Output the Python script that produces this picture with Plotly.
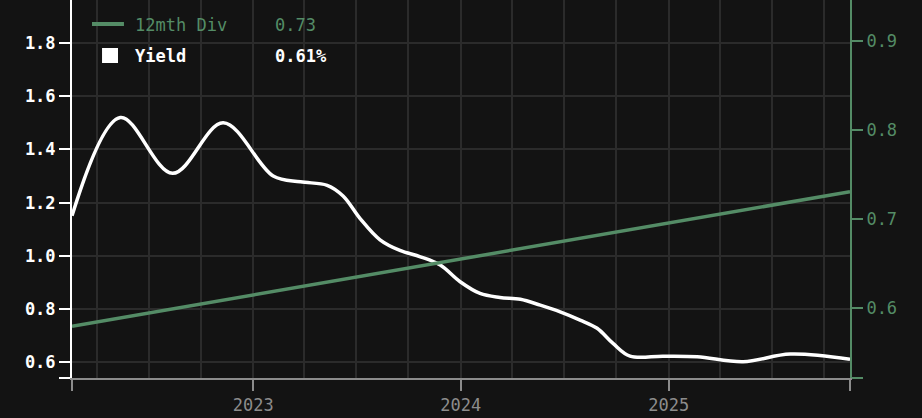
import plotly.graph_objects as go

# ---- data ----
yield_dates = ["2022-02-16", "2022-05-12", "2022-08-12", "2022-11-09", "2023-02-05",
               "2023-03-25", "2023-05-11", "2023-06-08", "2023-07-08", "2023-08-12",
               "2023-09-16", "2023-10-22", "2023-11-26", "2023-12-31", "2024-02-04",
               "2024-03-10", "2024-04-15", "2024-05-20", "2024-06-24", "2024-07-29",
               "2024-08-28", "2024-09-25", "2024-10-25", "2024-12-22", "2025-02-20",
               "2025-05-12", "2025-08-03", "2025-11-16"]
yield_values = [1.15, 1.52, 1.31, 1.50, 1.30,
                1.278, 1.265, 1.225, 1.14, 1.06,
                1.02, 0.996, 0.965, 0.902, 0.858,
                0.843, 0.836, 0.814, 0.789, 0.758,
                0.727, 0.670, 0.622, 0.622, 0.620,
                0.601, 0.630, 0.610]

div_dates = ["2022-02-16", "2023-01-01", "2024-01-01", "2025-01-01", "2025-11-16"]
div_values = [0.580, 0.615, 0.655, 0.696, 0.731]

x_range = ["2022-02-16", "2025-11-16"]
year_ticks = ["2023-01-01", "2024-01-01", "2025-01-01"]
year_labels = ["2023", "2024", "2025"]
quarter_grid = ["2022-04-01", "2022-07-01", "2022-10-01", "2023-04-01", "2023-07-01",
                "2023-10-01", "2024-04-01", "2024-07-01", "2024-10-01", "2025-04-01",
                "2025-07-01", "2025-10-01"]
left_ticks = [0.6, 0.8, 1.0, 1.2, 1.4, 1.6, 1.8]
right_ticks = [0.6, 0.7, 0.8, 0.9]
left_range = [0.54, 1.962]
right_range = [0.522, 0.946]

# ---- style ----
BG = "#131313"
GRID = "#2b2b2b"
GREEN = "#548c66"
WHITE = "#ffffff"
GRAY = "#8c8c8c"
FONT = "DejaVu Sans Mono"
FS = 17

fig = go.Figure()
fig.add_trace(go.Scatter(x=div_dates, y=div_values, mode="lines", yaxis="y2",
                         line=dict(color=GREEN, width=3.5), name="12mth Div",
                         showlegend=False))
fig.add_trace(go.Scatter(x=yield_dates, y=yield_values, mode="lines",
                         line=dict(color=WHITE, width=3.5, shape="spline", smoothing=1.0),
                         name="Yield", showlegend=False))

fig.update_layout(
    width=922, height=418,
    margin=dict(l=72, r=72, t=0, b=40, autoexpand=False),
    paper_bgcolor=BG, plot_bgcolor=BG,
    font=dict(family=FONT, size=FS, color=WHITE),
    showlegend=False,
    xaxis=dict(
        type="date", range=x_range, automargin=False,
        tickmode="array",
        tickvals=[x_range[0]] + year_ticks + [x_range[1]],
        ticktext=[""] + year_labels + [""],
        ticks="outside", ticklen=11, tickwidth=2, tickcolor=GRAY,
        tickfont=dict(color=GRAY, size=FS),
        showline=True, linecolor=GRAY, linewidth=2,
        showgrid=True, gridcolor=GRID, gridwidth=1.5,
        minor=dict(tickmode="array", tickvals=quarter_grid, showgrid=True,
                   gridcolor=GRID, gridwidth=1.5, ticks=""),
        zeroline=False,
    ),
    yaxis=dict(
        range=left_range, automargin=False,
        tickmode="array",
        tickvals=[left_range[0]] + left_ticks,
        ticktext=[""] + [f"{v:.1f}" for v in left_ticks],
        ticks="outside", ticklen=11, tickwidth=2, tickcolor=WHITE,
        tickfont=dict(color=WHITE, size=FS, weight="bold"),
        showline=True, linecolor=WHITE, linewidth=2,
        showgrid=True, gridcolor=GRID, gridwidth=1.5,
        zeroline=False,
    ),
    yaxis2=dict(
        range=right_range, overlaying="y", side="right", automargin=False,
        tickmode="array",
        tickvals=[right_range[0]] + right_ticks,
        ticktext=[""] + [f"{v:.1f}" for v in right_ticks],
        ticks="outside", ticklen=11, tickwidth=2, tickcolor=GREEN,
        tickfont=dict(color=GREEN, size=FS),
        showline=True, linecolor=GREEN, linewidth=2,
        showgrid=False, zeroline=False,
    ),
)

# ---- legend (custom) ----
fig.add_shape(type="line", xref="paper", yref="paper",
              x0=0.0257, x1=0.0668, y0=0.9365, y1=0.9365,
              line=dict(color=GREEN, width=4))
fig.add_shape(type="rect", xref="paper", yref="paper",
              x0=0.0386, x1=0.0591, y0=0.8333, y1=0.873,
              line=dict(width=0), fillcolor=WHITE)
legend_rows = [("12mth Div", f"{div_values[-1]:.2f}", GREEN, 0.934, "normal"),
               ("Yield", f"{yield_values[-1]:.2f}%", WHITE, 0.852, "bold")]
for name, val, col, yp, wt in legend_rows:
    fig.add_annotation(xref="paper", yref="paper", x=0.0784, y=yp, text=name,
                       showarrow=False, xanchor="left", yanchor="middle",
                       font=dict(color=col, size=FS, family=FONT, weight=wt))
    fig.add_annotation(xref="paper", yref="paper", x=0.2584, y=yp, text=val,
                       showarrow=False, xanchor="left", yanchor="middle",
                       font=dict(color=col, size=FS, family=FONT, weight=wt))

fig.write_html("out.html", config={"displayModeBar": False},
               post_script="document.body.style.margin='0';document.body.style.background='%s';" % BG)
